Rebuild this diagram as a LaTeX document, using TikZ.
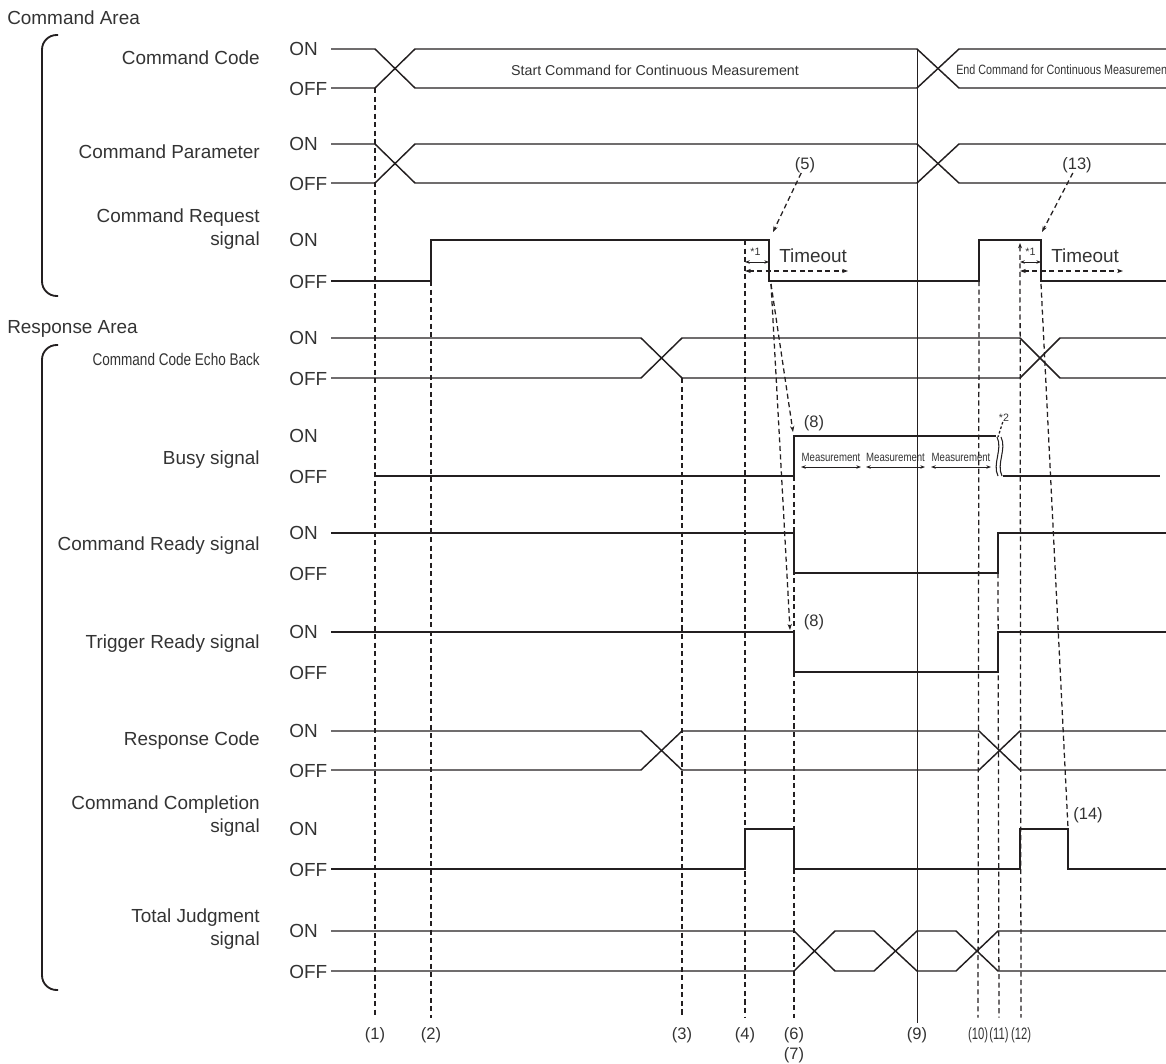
\documentclass[tikz,border=0pt]{standalone}
\usepackage{fontspec}
\setmainfont{Liberation Sans}
\newfontfamily\tdcond[FakeStretch=0.8]{Liberation Sans}
\newfontfamily\tdtight[FakeStretch=0.68]{Liberation Sans}
\usetikzlibrary{arrows.meta}
\definecolor{tdInk}{HTML}{231F20}
\definecolor{tdText}{HTML}{333333}
\tikzset{
  td wave/.style={draw=tdInk, line width=1.1pt},
  td guide/.style={draw=tdInk, dash pattern=on 3.8pt off 2.6pt, line width=0.95pt},
  td marker/.style={draw=tdInk, line width=0.8pt},
  td pointer/.style={td guide, -{Stealth[length=4.5pt,width=3.2pt]}},
  td window/.style={td guide, {Stealth[length=4.5pt,width=3.2pt]}-{Stealth[length=4.5pt,width=3.2pt]}},
  td span/.style={draw=tdInk, line width=0.7pt, {Stealth[length=3.5pt,width=2.6pt]}-{Stealth[length=3.5pt,width=2.6pt]}},
  td brace/.style={draw=tdInk, line width=1.4pt, rounded corners=11pt},
  td name/.style={anchor=base east, align=right, text=tdText, inner sep=0pt, font=\fontsize{14.2}{17}\selectfont},
  td level/.style={anchor=base west, text=tdText, inner sep=0pt, font=\fontsize{14.2}{17}\selectfont},
  td area/.style={anchor=base west, text=tdText, inner sep=0pt, font=\fontsize{14.2}{17}\selectfont},
  td step/.style={text=tdText, inner sep=0pt, align=center, font=\fontsize{12.4}{15}\selectfont},
  td data/.style={text=tdText, inner sep=0pt, font=\fontsize{10.7}{13}\selectfont},
  td meas/.style={text=tdText, inner sep=0pt, font=\tdcond\fontsize{9}{11}\selectfont},
  td note/.style={text=tdText, inner sep=0pt, font=\fontsize{8}{10}\selectfont},
}
\begin{document}
\begin{tikzpicture}[x=0.75pt, y=-0.75pt]
  \useasboundingbox (0,0) rectangle (1166,1063);

  % Area headings with their brackets
  \node[td area] (cmdArea) at (7,25) {Command Area};
  \node[td area] (resArea) at (7,333) {Response Area};
  \draw[td brace] (58,35) -- (42,35) -- (42,296) -- (58,296);
  \draw[td brace] (58,345) -- (42,345) -- (42,990) -- (58,990);

  % Signal names
  \node[td name] (nCode) at (260,64.5) {Command Code};
  \node[td name] (nParam) at (260,158) {Command Parameter};
  \node[td name] (nReq) at (260,245) {Command Request\\signal};
  \node[td name, font=\tdcond\fontsize{12.7}{15}\selectfont] (nEcho) at (260,365.5) {Command Code Echo Back};
  \node[td name] (nBusy) at (260,464) {Busy signal};
  \node[td name] (nCRdy) at (260,550) {Command Ready signal};
  \node[td name] (nTRdy) at (260,648) {Trigger Ready signal};
  \node[td name] (nResp) at (260,745.5) {Response Code};
  \node[td name] (nDone) at (260,832) {Command Completion\\signal};
  \node[td name] (nJudge) at (260,945) {Total Judgment\\signal};

  % ON / OFF levels
  \foreach \on/\off [count=\i] in {49/88,144/183,240/281,338/378,436/476,533/573,632/672,731/770,829/869,931/971} {
    \node[td level] (on\i) at (289,\on+6.5) {ON};
    \node[td level] (off\i) at (289,\off+7) {OFF};
  }

  % Command area waveforms
  \draw[td wave] (331,49) -- (375,49) -- (415,88) -- (917,88) -- (959,49) -- (1166,49);
  \draw[td wave] (331,88) -- (375,88) -- (415,49) -- (917,49) -- (959,88) -- (1166,88);
  \node[td data] (dStart) at (655,70) {Start Command for Continuous Measurement};
  \node[td data, anchor=west, font=\tdcond\fontsize{10.1}{12}\selectfont] (dEnd) at (956,70) {End Command for Continuous Measurement};
  \draw[td wave] (331,144) -- (375,144) -- (415,183) -- (917,183) -- (959,144) -- (1166,144);
  \draw[td wave] (331,183) -- (375,183) -- (415,144) -- (917,144) -- (959,183) -- (1166,183);
  \draw[td wave] (331,281) -- (431,281) -- (431,240) -- (769,240) -- (769,281) -- (979,281)
    -- (979,240) -- (1041,240) -- (1041,281) -- (1166,281);

  % Response area waveforms
  \draw[td wave] (331,338) -- (641,338) -- (682,378) -- (1020,378) -- (1060,338) -- (1166,338);
  \draw[td wave] (331,378) -- (641,378) -- (682,338) -- (1020,338) -- (1060,378) -- (1166,378);
  \draw[td wave] (375,476) -- (794,476) -- (794,436) -- (996,436);
  \draw[td wave] (1003,476) -- (1160,476);
  \draw[td marker] (997,437) .. controls (1003,449) and (992,464) .. (998,476);
  \draw[td marker] (1001,437) .. controls (1007,449) and (996,464) .. (1002,476);
  \draw[td wave] (331,533) -- (794,533) -- (794,573) -- (998,573) -- (998,533) -- (1166,533);
  \draw[td wave] (331,632) -- (794,632) -- (794,672) -- (998,672) -- (998,632) -- (1166,632);
  \draw[td wave] (331,731) -- (641,731) -- (682,770) -- (979,770) -- (1020,731) -- (1166,731);
  \draw[td wave] (331,770) -- (641,770) -- (682,731) -- (979,731) -- (1020,770) -- (1166,770);
  \draw[td wave] (331,869) -- (745,869) -- (745,829) -- (794,829) -- (794,869) -- (1020,869)
    -- (1020,829) -- (1068,829) -- (1068,869) -- (1166,869);
  \draw[td wave] (331,931) -- (794,931) -- (835,971) -- (874,971) -- (917,931) -- (956,931) -- (998,971) -- (1166,971);
  \draw[td wave] (331,971) -- (794,971) -- (835,931) -- (874,931) -- (917,971) -- (956,971) -- (998,931) -- (1166,931);

  % Measurement periods
  \foreach \a/\b [count=\i] in {801/861,866/925,931/991} {
    \node[td meas] (m\i) at ({(\a+\b)/2},457) {Measurement};
    \coordinate (ma\i) at (\a,467);
    \coordinate (mb\i) at (\b,467);
    \draw[td span] (ma\i) -- (mb\i);
  }
  \node[td note] (s2) at (1004,418) {*2};
  \coordinate (s2tip) at (998,437);
  \draw[td guide, dash pattern=on 2pt off 1.5pt] (s2) -- (s2tip);

  % Timeouts
  \foreach \x/\y/\z [count=\i] in {745/769/848,1020/1041/1123} {
    \node[td note] (s1\i) at ({\x+10.5},252) {*1};
    \coordinate (ta\i) at (\x,262);
    \coordinate (tb\i) at (\y,262);
    \draw[td span] (ta\i) -- (tb\i);
    \node[td area] (to\i) at (\y+10,262) {Timeout};
    \coordinate (wa\i) at (\x,271);
    \coordinate (wb\i) at (\z,271);
    \draw[td window] (wa\i) -- (wb\i);
  }

  % Step labels along the bottom
  \node[td step] (l1) at (375,1035) {(1)};
  \node[td step] (l2) at (431,1035) {(2)};
  \node[td step] (l3) at (682,1035) {(3)};
  \node[td step] (l4) at (745,1035) {(4)};
  \node[td step, anchor=north] (l6) at (794,1027) {(6)\\(7)};
  \node[td step] (l9) at (917,1035) {(9)};
  \node[td step] (l10) at (978,1035) {\tdtight (10)};
  \node[td step] (l11) at (999,1035) {\tdtight (11)};
  \node[td step] (l12) at (1021,1035) {\tdtight (12)};

  % Timing guides
  \foreach \n/\x/\top in {1/375/88,2/431/281,3/682/378,4/745/240,6/794/476,10/979/281,11/998/573} {
    \coordinate (t\n) at (\x,\top);
    \draw[td guide, shorten >=7pt] (t\n) -- (l\n.north);
  }
  \coordinate (t12) at (1020,243);
  \draw[td guide, shorten >=7pt, {Stealth[length=4pt,width=3pt]}-] (t12) -- (l12.north);
  \coordinate (t9) at (917,49);
  \draw[td marker, line width=0.7pt, shorten >=3pt] (t9) -- (l9.north);

  % Event call-outs
  \node[td step] (e5) at (805,165) {(5)};
  \coordinate (p5) at (773,232);
  \draw[td pointer] (e5) -- (p5);
  \node[td step] (e13) at (1077,165) {(13)};
  \coordinate (p13) at (1042,232);
  \draw[td pointer] (e13) -- (p13);
  \node[td step] (e8a) at (814,423) {(8)};
  \node[td step] (e8b) at (814,622) {(8)};
  \coordinate (rqFall) at (771,284);
  \coordinate (busyRise) at (793,432);
  \coordinate (trgFall) at (790,630);
  \draw[td pointer] (rqFall) -- (busyRise);
  \draw[td pointer] (rqFall) -- (trgFall);
  \node[td step] (e14) at (1088,815) {(14)};
  \coordinate (rqEnd) at (1041,284);
  \coordinate (ccFall) at (1068,828);
  \draw[td guide] (rqEnd) -- (ccFall);
\end{tikzpicture}
\end{document}
